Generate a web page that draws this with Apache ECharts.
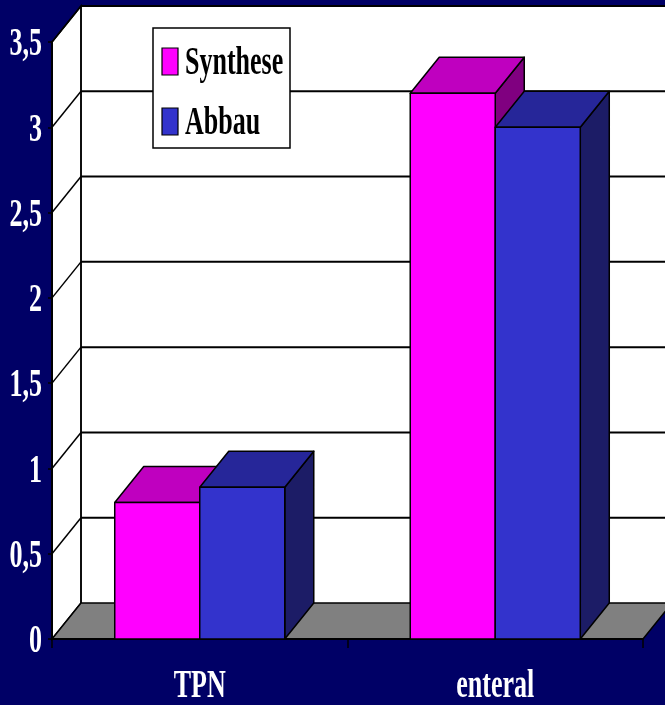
<!DOCTYPE html>
<html>
<head>
<meta charset="utf-8">
<script src="https://cdn.jsdelivr.net/npm/echarts@6/dist/echarts.min.js"></script>
<style>
html,body{margin:0;padding:0;background:#000066;}
#chart{width:665px;height:705px;}
</style>
</head>
<body>
<div id="chart"></div>
<script>
// ---- data ----
const categories = ['TPN', 'enteral'];
const seriesNames = ['Synthese', 'Abbau'];
const synthese = [0.80, 3.20];
const abbau = [0.89, 3.00];
const yTicks = [0, 0.5, 1, 1.5, 2, 2.5, 3, 3.5];
const yTickLabels = ['0', '0,5', '1', '1,5', '2', '2,5', '3', '3,5'];

// ---- style ----
const DX = 29, DY = -36;
const BAR_FRAC = 0.2877;
const FONT = 'bold 40px "Liberation Serif", "Times New Roman", serif';
const SX = 0.65;
const colors = {
  Synthese: { front: '#FF00FF', top: '#BF00BF', side: '#800080' },
  Abbau: { front: '#3333CC', top: '#262699', side: '#1C1C66' }
};
const yMax = yTicks[yTicks.length - 1];

function wallsRender(params, api) {
  const c0 = api.coord([0, 0]);
  const c1 = api.coord([categories.length - 1, 0]);
  const cw = api.size([1, 0])[0];
  const xL = c0[0] - cw / 2, xR = c1[0] + cw / 2;
  const yB = c0[1];
  const yT = api.coord([0, yMax])[1];
  const line = { stroke: '#000', lineWidth: 2 };
  const children = [
    { type: 'polygon', shape: { points: [[xL + DX, yT + DY], [xR + DX + 40, yT + DY], [xR + DX + 40, yB + DY], [xL + DX, yB + DY]] }, style: { fill: '#FFFFFF' } },
    { type: 'polygon', shape: { points: [[xL, yT], [xL + DX, yT + DY], [xL + DX, yB + DY], [xL, yB]] }, style: { fill: '#FFFFFF', stroke: '#000', lineWidth: 1.5 } },
    { type: 'polygon', shape: { points: [[xL, yB], [xR, yB], [xR + DX, yB + DY], [xL + DX, yB + DY]] }, style: { fill: '#808080', stroke: '#000', lineWidth: 1.5 } }
  ];
  yTicks.forEach(function (v) {
    if (v === 0) return;
    const y = api.coord([0, v])[1];
    children.push({ type: 'line', shape: { x1: xL + DX, y1: y + DY, x2: xR + DX + 40, y2: y + DY }, style: line });
    children.push({ type: 'line', shape: { x1: xL, y1: y, x2: xL + DX, y2: y + DY }, style: { stroke: '#000', lineWidth: 1.5 } });
  });
  children.push({ type: 'line', shape: { x1: xL + DX, y1: yT + DY, x2: xL + DX, y2: yB + DY }, style: { stroke: '#000', lineWidth: 1.5 } });
  return { type: 'group', children: children };
}

function barRender(name, side) {
  const col = colors[name];
  return function (params, api) {
    const i = api.value(0), v = api.value(1);
    const c = api.coord([i, v]);
    const b = api.coord([i, 0]);
    const cw = api.size([1, 0])[0];
    const bw = cw * BAR_FRAC;
    const x0 = side === 0 ? c[0] - bw : c[0];
    const yT = c[1], yB = b[1];
    const st = { stroke: '#000', lineWidth: 1.5, lineJoin: 'round' };
    return {
      type: 'group',
      children: [
        { type: 'polygon', shape: { points: [[x0 + bw, yT], [x0 + bw + DX, yT + DY], [x0 + bw + DX, yB + DY], [x0 + bw, yB]] }, style: Object.assign({ fill: col.side }, st) },
        { type: 'polygon', shape: { points: [[x0, yT], [x0 + DX, yT + DY], [x0 + bw + DX, yT + DY], [x0 + bw, yT]] }, style: Object.assign({ fill: col.top }, st) },
        { type: 'rect', shape: { x: x0, y: yT, width: bw, height: yB - yT }, style: Object.assign({ fill: col.front }, st) }
      ]
    };
  };
}

function yLabelRender(params, api) {
  const v = api.value(1);
  const p = api.coord([0, v]);
  const cw = api.size([1, 0])[0];
  return {
    type: 'text', x: p[0] - cw / 2 - 10, y: p[1] + 3, scaleX: SX,
    style: { text: yTickLabels[params.dataIndex], font: FONT, fill: '#FFFFFF', align: 'right', verticalAlign: 'middle' }
  };
}

function xLabelRender(params, api) {
  const i = api.value(0);
  const p = api.coord([i, 0]);
  return {
    type: 'text', x: p[0], y: p[1] + 48, scaleX: SX,
    style: { text: categories[i], font: FONT, fill: '#FFFFFF', align: 'center', verticalAlign: 'middle' }
  };
}

const chart = echarts.init(document.getElementById('chart'));
chart.setOption({
  backgroundColor: '#000066',
  animation: false,
  grid: { left: 52, right: 22, top: 42, bottom: 66 },
  xAxis: {
    type: 'category', data: categories,
    axisLine: { lineStyle: { color: '#000', width: 2 } },
    axisTick: { show: true, length: 9, lineStyle: { color: '#000', width: 1.5 } },
    axisLabel: { show: false },
    splitLine: { show: false }
  },
  yAxis: {
    type: 'value', min: 0, max: yMax, interval: 0.5,
    axisLine: { show: true, lineStyle: { color: '#000', width: 2 } },
    axisTick: { show: true, length: 4, lineStyle: { color: '#000', width: 1.5 } },
    axisLabel: { show: false },
    splitLine: { show: false }
  },
  series: [
    { type: 'custom', name: 'walls', z: 0, silent: true, data: [[0, 0]], renderItem: wallsRender },
    { type: 'custom', name: seriesNames[0], z: 2, data: synthese.map(function (v, i) { return [i, v]; }), renderItem: barRender(seriesNames[0], 0), encode: { x: 0, y: 1 } },
    { type: 'custom', name: seriesNames[1], z: 2, data: abbau.map(function (v, i) { return [i, v]; }), renderItem: barRender(seriesNames[1], 1), encode: { x: 0, y: 1 } },
    { type: 'custom', name: 'yLabels', z: 3, silent: true, data: yTicks.map(function (v) { return [0, v]; }), renderItem: yLabelRender },
    { type: 'custom', name: 'xLabels', z: 3, silent: true, data: categories.map(function (c, i) { return [i, 0]; }), renderItem: xLabelRender }
  ],
  graphic: [
    { type: 'rect', z: 100, shape: { x: 153, y: 28, width: 137, height: 120 }, style: { fill: '#FFFFFF', stroke: '#000', lineWidth: 1.5 } },
    { type: 'rect', z: 101, shape: { x: 162, y: 48, width: 16, height: 27 }, style: { fill: colors.Synthese.front, stroke: '#000', lineWidth: 1.2 } },
    { type: 'rect', z: 101, shape: { x: 162, y: 108, width: 16, height: 27 }, style: { fill: colors.Abbau.front, stroke: '#000', lineWidth: 1.2 } },
    { type: 'text', z: 101, x: 185, y: 64, scaleX: SX, style: { text: seriesNames[0], font: FONT, fill: '#000', align: 'left', verticalAlign: 'middle' } },
    { type: 'text', z: 101, x: 185, y: 124, scaleX: SX, style: { text: seriesNames[1], font: FONT, fill: '#000', align: 'left', verticalAlign: 'middle' } }
  ]
});
</script>
</body>
</html>
